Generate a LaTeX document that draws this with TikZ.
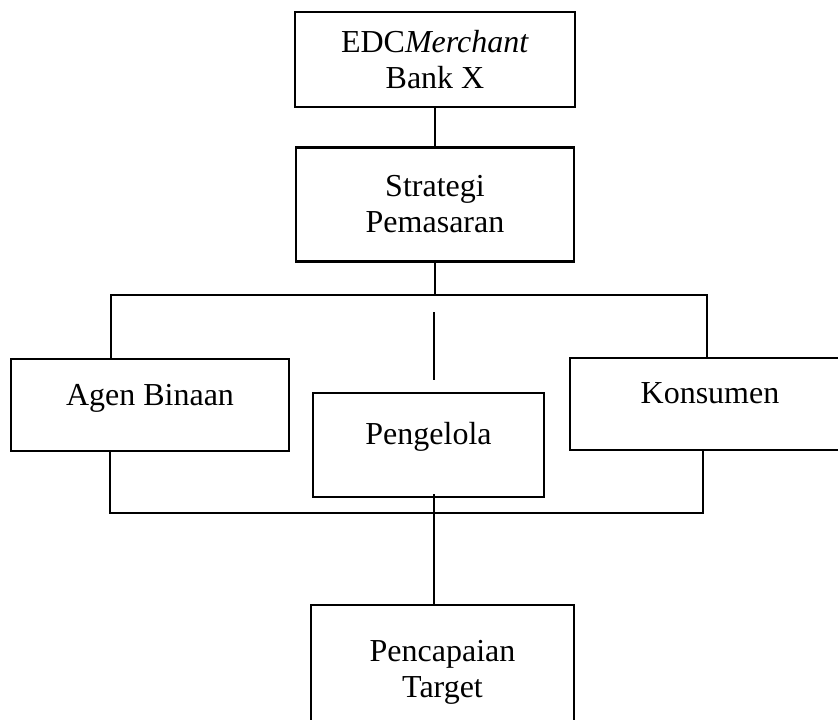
\documentclass[tikz,border=0pt]{standalone}
\usepackage{fontspec}
\setmainfont{Liberation Serif}
\begin{document}
\begin{tikzpicture}[x=1pt,y=-1pt,
  box/.style={draw,line width=2.8pt,inner sep=0pt,font=\fontsize{32}{36}\selectfont},
  boxtwo/.style={box,align=center},
  conn/.style={line width=1.5pt}]
\clip (0,0) rectangle (838,720);
\node[boxtwo,minimum width=280pt,minimum height=95pt] (edc) at (435,59.5) {EDC\textit{Merchant}\\Bank X};
\node[boxtwo,minimum width=278pt,minimum height=114pt] (strat) at (435,204.5) {Strategi\\Pemasaran};
\node[box,minimum width=278pt,text height=46pt,text depth=46pt] (agen) at (150,405) {Agen Binaan};
\node[box,minimum width=231pt,text height=51pt,text depth=53pt] (peng) at (428.5,445) {Pengelola};
\node[box,minimum width=280pt,text height=45pt,text depth=47pt] (kons) at (710,404) {Konsumen};
\node[boxtwo,minimum width=263pt,minimum height=135pt] (penc) at (442.5,672.5) {Pencapaian\\Target};
\coordinate (tl) at (111,295);
\coordinate (tr) at (707,295);
\coordinate (m1) at (434,312);
\coordinate (m2) at (434,380);
\coordinate (bl) at (110,513);
\coordinate (br) at (703,513);
\coordinate (pb) at (434,494);
\draw[conn] (edc.south) -- (strat.north);
\draw[conn] (strat.south) -- (strat.south |- tl);
\draw[conn] (tl |- agen.north) -- (tl) -- (tr) -- (tr |- kons.north);
\draw[conn] (m1) -- (m2);
\draw[conn] (bl |- agen.south) -- (bl) -- (br) -- (br |- kons.south);
\draw[conn] (pb) -- (pb |- penc.north);
\end{tikzpicture}
\end{document}
